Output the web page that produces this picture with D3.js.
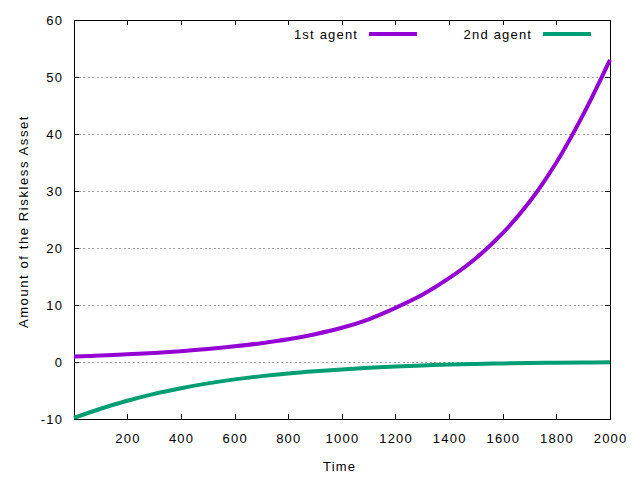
<!DOCTYPE html>
<html>
<head>
<meta charset="utf-8">
<script src="https://cdn.jsdelivr.net/npm/d3@7"></script>
<style>
  html, body { margin: 0; padding: 0; background: #fff; }
  svg { display: block; }
  text { font-family: "Liberation Sans", Arial, sans-serif; font-size: 13px; letter-spacing: 1.2px; fill: #000; }
</style>
</head>
<body>
<svg id="chart" width="640" height="480"></svg>
<script>
// ---- data ----
const times = [1, 100, 200, 300, 400, 500, 600, 700, 800, 900, 1000,
               1100, 1200, 1300, 1400, 1500, 1600, 1700, 1800, 1900, 2000];
const agent1 = [0.95, 1.13, 1.35, 1.6, 1.9, 2.28, 2.75, 3.3, 3.98, 4.88, 6.0,
                7.5, 9.5, 11.8, 14.7, 18.2, 22.6, 28.1, 35.0, 43.4, 53.0];
const agent2 = [-9.8, -8.2, -6.8, -5.6, -4.6, -3.75, -3.05, -2.48, -2.0, -1.62, -1.3,
                -1.02, -0.78, -0.6, -0.45, -0.34, -0.25, -0.18, -0.12, -0.08, -0.05];
const seriesNames = ["1st agent", "2nd agent"];
const seriesColors = ["#9400d3", "#009e73"];
const xTicks = [200, 400, 600, 800, 1000, 1200, 1400, 1600, 1800, 2000];
const yTicks = [-10, 0, 10, 20, 30, 40, 50, 60];
const xTitle = "Time";
const yTitle = "Amount of the Riskless Asset";

// ---- layout ----
const L = 74, R = 610, T = 20, B = 419;
const svg = d3.select("#chart");
const x = d3.scaleLinear().domain([1, 2000]).range([L, R]);
const y = d3.scaleLinear().domain([-10, 60]).range([B, T]);
const LS = 1.2;

// grid
svg.append("g").selectAll("line")
  .data(yTicks.filter(v => v > -10 && v < 60))
  .join("line")
  .attr("x1", L).attr("x2", R)
  .attr("y1", d => y(d)).attr("y2", d => y(d))
  .attr("stroke", "#a0a0a0").attr("stroke-width", 1)
  .attr("stroke-dasharray", "2,2.5")
  .attr("shape-rendering", "crispEdges");

// axes (ticks inward, mirrored)
const tickLen = 5;
const gl = svg.append("g").attr("transform", `translate(${L},0)`)
  .call(d3.axisRight(y).tickValues(yTicks).tickSize(tickLen).tickFormat(""));
const gr = svg.append("g").attr("transform", `translate(${R},0)`)
  .call(d3.axisLeft(y).tickValues(yTicks).tickSize(tickLen).tickFormat(""));
const gb = svg.append("g").attr("transform", `translate(0,${B})`)
  .call(d3.axisTop(x).tickValues(xTicks).tickSize(tickLen).tickFormat(""));
const gt = svg.append("g").attr("transform", `translate(0,${T})`)
  .call(d3.axisBottom(x).tickValues(xTicks).tickSize(tickLen).tickFormat(""));
[gl, gr, gb, gt].forEach(g => {
  g.select(".domain").remove();
  g.selectAll("line").attr("stroke", "#000").attr("stroke-width", 1).attr("shape-rendering", "crispEdges");
});

// tick labels
svg.append("g").selectAll("text").data(yTicks).join("text")
  .attr("x", 62 + LS).attr("y", d => y(d)).attr("dy", "0.35em")
  .attr("text-anchor", "end").text(d => d);
svg.append("g").selectAll("text").data(xTicks).join("text")
  .attr("x", d => x(d) + LS / 2).attr("y", 443)
  .attr("text-anchor", "middle").text(d => d);

// titles
svg.append("text").attr("x", 339 + LS / 2).attr("y", 471).attr("text-anchor", "middle").text(xTitle);
svg.append("text").attr("transform", `translate(28,${(T + B) / 2 + 2}) rotate(-90)`)
  .attr("text-anchor", "middle").style("letter-spacing", "1.6px").text(yTitle);

// border
svg.append("rect").attr("x", L).attr("y", T).attr("width", R - L).attr("height", B - T)
  .attr("fill", "none").attr("stroke", "#000").attr("stroke-width", 1).attr("shape-rendering", "crispEdges");

// lines
const line = d3.line().x(d => x(d[0])).y(d => y(d[1])).curve(d3.curveCatmullRom.alpha(0.5));
const series = [agent1, agent2];
series.forEach((vals, i) => {
  svg.append("path")
    .datum(times.map((t, j) => [t, vals[j]]))
    .attr("d", line)
    .attr("fill", "none")
    .attr("stroke", seriesColors[i])
    .attr("stroke-width", 4)
    .attr("stroke-linejoin", "round");
});

// legend
const legendTextEnd = [357, 531];
seriesNames.forEach((name, i) => {
  svg.append("text").attr("x", legendTextEnd[i] + LS).attr("y", 39)
    .attr("text-anchor", "end").text(name);
  svg.append("line")
    .attr("x1", legendTextEnd[i] + 12).attr("x2", legendTextEnd[i] + 60)
    .attr("y1", 34).attr("y2", 34)
    .attr("stroke", seriesColors[i]).attr("stroke-width", 4);
});
</script>
</body>
</html>
